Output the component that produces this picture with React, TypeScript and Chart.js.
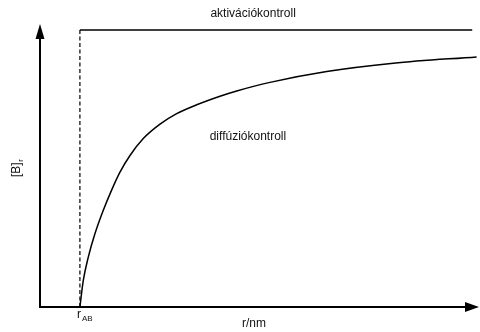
import React, { useEffect, useRef } from "react";
import { Chart, registerables } from "chart.js";

Chart.register(...registerables);

// r values (in units where r_AB = 1) and the diffusion-controlled curve
const rValues = [1.0, 1.085, 1.21, 1.378, 1.586, 1.797, 2.004, 2.255, 2.588, 3.007, 3.425, 3.926, 4.51, 4.929, 5.763, 7.184, 8.853, 10.94];
const diffusionValues = [0, 0.096, 0.18, 0.265, 0.349, 0.423, 0.487, 0.547, 0.608, 0.66, 0.698, 0.73, 0.761, 0.78, 0.811, 0.85, 0.88, 0.903];
// activation-controlled level
const activationR = [1, 10.83];
const activationValues = [1, 1];
// dashed line at r_AB
const rAB = 1;
const dashedR = [rAB, rAB];
const dashedValues = [0, 1];

const xMax = 11;
const yMax = 1.0217;

const labelActivation = "aktivációkontroll";
const labelDiffusion = "diffúziókontroll";
const xTitle = "r/nm";
const FONT = "'Liberation Sans', Arial, sans-serif";

const decorPlugin = {
  id: "decor",
  afterDraw(chart: any) {
    const ctx = chart.ctx as CanvasRenderingContext2D;
    const xs = chart.scales.x;
    const ys = chart.scales.y;
    const ca = chart.chartArea;
    const x0 = xs.getPixelForValue(0);
    const y0 = ys.getPixelForValue(0);
    ctx.save();
    ctx.strokeStyle = "#000";
    ctx.fillStyle = "#000";
    ctx.lineWidth = 2;
    // y axis
    ctx.beginPath();
    ctx.moveTo(x0, y0 + 1);
    ctx.lineTo(x0, ca.top + 12);
    ctx.stroke();
    ctx.beginPath();
    ctx.moveTo(x0, ca.top);
    ctx.lineTo(x0 - 4.5, ca.top + 15);
    ctx.lineTo(x0 + 4.5, ca.top + 15);
    ctx.closePath();
    ctx.fill();
    // x axis
    ctx.beginPath();
    ctx.moveTo(x0 - 1, y0);
    ctx.lineTo(ca.right - 12, y0);
    ctx.stroke();
    ctx.beginPath();
    ctx.moveTo(ca.right, y0);
    ctx.lineTo(ca.right - 14, y0 - 5);
    ctx.lineTo(ca.right - 14, y0 + 5);
    ctx.closePath();
    ctx.fill();

    // texts
    ctx.font = `12px ${FONT}`;
    ctx.textAlign = "center";
    ctx.textBaseline = "middle";
    ctx.fillStyle = "#111";
    ctx.fillText(labelActivation, xs.getPixelForValue(5.34), ca.top - 10);
    ctx.fillText(labelDiffusion, xs.getPixelForValue(5.21), ys.getPixelForValue(0.614));
    ctx.fillText(xTitle, xs.getPixelForValue(5.36), y0 + 17);

    // r_AB tick label
    const rx = xs.getPixelForValue(rAB);
    ctx.textAlign = "left";
    ctx.textBaseline = "alphabetic";
    ctx.font = `12px ${FONT}`;
    ctx.fillText("r", rx - 3, y0 + 11);
    ctx.font = `8px ${FONT}`;
    ctx.fillText("AB", rx + 2, y0 + 14);

    // y title [B]r rotated
    ctx.save();
    ctx.translate(20, 177);
    ctx.rotate(-Math.PI / 2);
    ctx.font = `12px ${FONT}`;
    ctx.textAlign = "left";
    ctx.fillText("[B]", 0, 0);
    const w = ctx.measureText("[B]").width;
    ctx.font = `8px ${FONT}`;
    ctx.fillText("r", w + 0.5, 2.5);
    ctx.restore();

    ctx.restore();
  },
};

export default function App() {
  const ref = useRef<HTMLCanvasElement>(null);
  useEffect(() => {
    if (!ref.current) return;
    const chart = new Chart(ref.current, {
      type: "scatter",
      data: {
        datasets: [
          {
            data: rValues.map((r, i) => ({ x: r, y: diffusionValues[i] })),
            showLine: true,
            borderColor: "#000",
            borderWidth: 1.5,
            pointRadius: 0,
            cubicInterpolationMode: "monotone",
          } as any,
          {
            data: activationR.map((r, i) => ({ x: r, y: activationValues[i] })),
            showLine: true,
            borderColor: "#000",
            borderWidth: 1.5,
            pointRadius: 0,
          },
          {
            data: dashedR.map((r, i) => ({ x: r, y: dashedValues[i] })),
            showLine: true,
            borderColor: "#000",
            borderWidth: 1.2,
            borderDash: [4, 2.5],
            pointRadius: 0,
          },
        ],
      },
      options: {
        responsive: false,
        animation: false,
        devicePixelRatio: 1,
        layout: { padding: { left: 40, top: 24, right: 1, bottom: 25 } },
        plugins: { legend: { display: false }, tooltip: { enabled: false } },
        scales: {
          x: { type: "linear", min: 0, max: xMax, display: false },
          y: { type: "linear", min: 0, max: yMax, display: false },
        },
      },
      plugins: [decorPlugin],
    });
    return () => chart.destroy();
  }, []);
  return (
    <div style={{ position: "absolute", left: 0, top: 0, width: 480, height: 332, background: "#fff" }}>
      <canvas ref={ref} width={480} height={332} />
    </div>
  );
}
